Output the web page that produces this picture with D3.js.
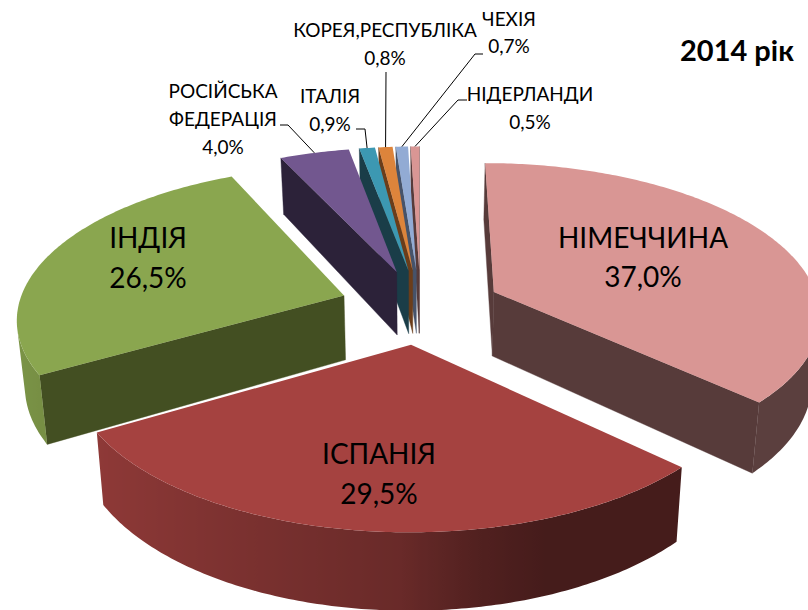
<!DOCTYPE html>
<html>
<head>
<meta charset="utf-8">
<script src="https://cdn.jsdelivr.net/npm/d3@7/dist/d3.min.js"></script>
<style>
html,body{margin:0;padding:0;background:#fff;overflow:hidden}
svg{display:block}
text{font-family:Lato,"Open Sans",sans-serif;fill:#000}
</style>
</head>
<body>
<svg id="c" width="808" height="610"></svg>
<script>
const countries = ["НІМЕЧЧИНА","ІСПАНІЯ","ІНДІЯ","РОСІЙСЬКА ФЕДЕРАЦІЯ","ІТАЛІЯ","КОРЕЯ,РЕСПУБЛІКА","ЧЕХІЯ","НІДЕРЛАНДИ"];
const shares = [37.0,29.5,26.5,4.0,0.9,0.8,0.7,0.5];
const colours = ["#D99694","#A54240","#8AA64F","#72578F","#3C98B2","#DD843B","#92ABD4","#D99694"];
const wallTones = ["#573B3A","#451B18","#434F22","#2C2239","#1A3D48","#6B3D1A","#46536A","#573B3A"];
const title = "2014 рік";

const labelLayout = [
  {x:643,y:248,gap:39,size:28,lines:["НІМЕЧЧИНА"]},
  {x:379,y:464,gap:40,size:28,lines:["ІСПАНІЯ"]},
  {x:148,y:248,gap:40,size:28,lines:["ІНДІЯ"]},
  {x:223,y:98,gap:28,size:19,lines:["РОСІЙСЬКА","ФЕДЕРАЦІЯ"]},
  {x:330,y:103,gap:28,size:19,lines:["ІТАЛІЯ"]},
  {x:385,y:37,gap:28,size:19,lines:["КОРЕЯ,РЕСПУБЛІКА"]},
  {x:509,y:26,gap:27,size:19,lines:["ЧЕХІЯ"]},
  {x:530,y:101,gap:28,size:19,lines:["НІДЕРЛАНДИ"]}
];
const leaders = [
  {i:3,pts:[[280,125],[288,125]]},
  {i:4,pts:[[356,129],[365,129]]},
  {i:5,pts:[[386,72]]},
  {i:6,pts:[[483,54],[475,54]]},
  {i:7,pts:[[467,100],[458,100]]}
];

// projection of the pie's plane
const cx=420.5, xStretch=1.012, planeA=-789.5, planeK=1096, camera=2350, radius=322, explode=80, depth=65, shrink=0.98;
const persp = b => camera/(camera+b);
function project(X,B,low){
  const p=persp(B);
  const x=cx+xStretch*X*p, y=planeA+planeK*p;
  return low ? [cx+(x-cx)*shrink, y+depth*p] : [x,y];
}
const arcs = d3.pie().sort(null).value(d=>d)(shares);
const svg = d3.select("#c");
const defs = svg.append("defs");
const line = d3.line();
const poly = pts => line(pts)+"Z";

const rimShade = d3.scaleLinear().domain([-1,-0.45,-0.03,0.18,0.35,1]).range([0.9,0.75,0.64,0.49,0.42,0.42]).clamp(true);
const drawOrder = [7,6,5,4,3,0,2,1];

function sliceGeom(a){
  const mid=(a.startAngle+a.endAngle)/2;
  const ax=explode*Math.sin(mid), ab=explode*Math.cos(mid);
  const n=Math.max(2,Math.ceil((a.endAngle-a.startAngle)/(Math.PI/240)));
  const angles=d3.range(n+1).map(k=>a.startAngle+(a.endAngle-a.startAngle)*k/n);
  const world=angles.map(t=>[ax+radius*Math.sin(t),ab+radius*Math.cos(t)]);
  return {mid,ax,ab,angles,world};
}
const visible = q => d3.polygonArea(q) > 0;

drawOrder.forEach(i=>{
  const a=arcs[i], g=sliceGeom(a), G=svg.append("g");
  const base=d3.color(colours[i]);
  const apexT=project(g.ax,g.ab,false), apexL=project(g.ax,g.ab,true);
  const top=g.world.map(w=>project(w[0],w[1],false));
  const low=g.world.map(w=>project(w[0],w[1],true));
  [[apexT,top[0],low[0],apexL],[top[top.length-1],apexT,apexL,low[low.length-1]]].forEach(q=>{
    if(visible(q)) G.append("path").attr("d",poly(q)).attr("fill",wallTones[i]).attr("stroke",wallTones[i]).attr("stroke-width",0.4);
  });
  // rim: one polygon over the visible segments, shaded by a horizontal gradient
  const seg=d3.range(top.length-1).filter(k=>visible([top[k],top[k+1],low[k+1],low[k]]));
  if(seg.length){
    const ks=[...seg,seg[seg.length-1]+1];
    const xs=ks.map(k=>top[k][0]);
    const x0=d3.min(xs), x1=d3.max(xs);
    const id="rim"+i;
    const grad=defs.append("linearGradient").attr("id",id).attr("gradientUnits","userSpaceOnUse")
      .attr("x1",x0).attr("x2",x1===x0?x0+1:x1).attr("y1",0).attr("y2",0);
    ks.slice().sort((u,v)=>top[u][0]-top[v][0]).forEach(k=>{
      const s=rimShade(Math.sin(g.angles[k]));
      grad.append("stop").attr("offset",(top[k][0]-x0)/Math.max(1,x1-x0))
        .attr("stop-color",d3.rgb(base.r*s,base.g*s,base.b*s).formatHex());
    });
    G.append("path").attr("d",poly([...ks.map(k=>top[k]),...ks.slice().reverse().map(k=>low[k])])).attr("fill",`url(#${id})`);
  }
  G.append("path").attr("d",poly([apexT,...top])).attr("fill",colours[i]);
});

leaders.forEach(l=>{
  const g=sliceGeom(arcs[l.i]);
  const end=project(g.ax+radius*Math.sin(g.mid),g.ab+radius*Math.cos(g.mid),false);
  svg.append("path").attr("d",line([...l.pts,end])).attr("fill","none").attr("stroke","#000").attr("stroke-width",1);
});

const fmt = v=>v.toFixed(1).replace(".",",")+"%";
labelLayout.forEach((l,i)=>{
  [...l.lines,fmt(shares[i])].forEach((t,k)=>{
    svg.append("text").attr("x",l.x).attr("y",l.y+k*l.gap).attr("text-anchor","middle").attr("font-size",l.size).text(t);
  });
});
svg.append("text").attr("x",737).attr("y",61).attr("text-anchor","middle").attr("font-size",29).attr("font-weight","bold").text(title);
</script>
</body>
</html>
